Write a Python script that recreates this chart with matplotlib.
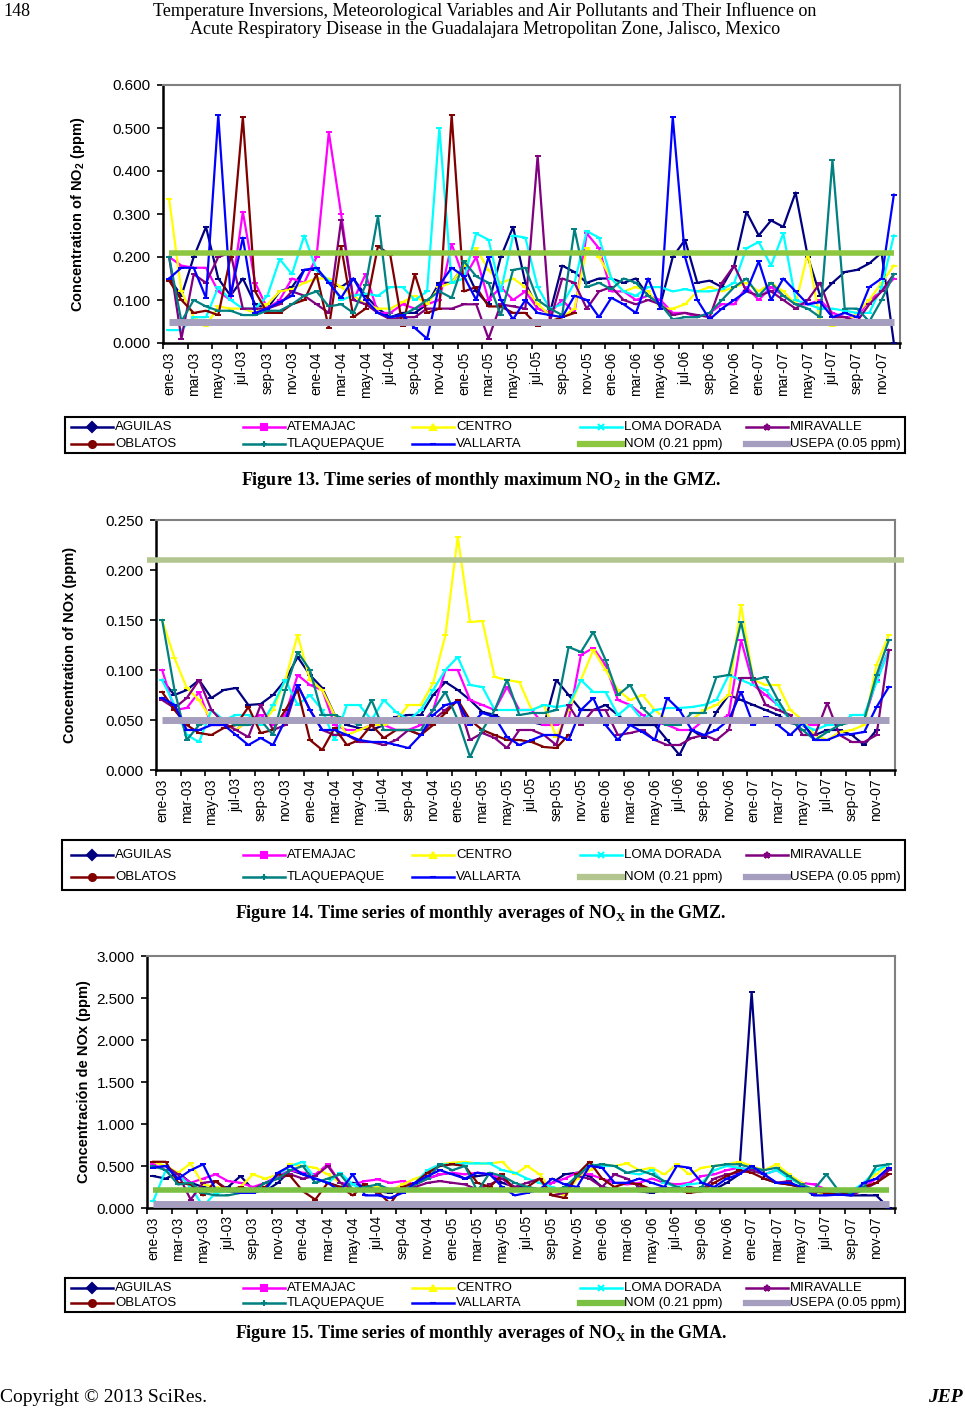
import numpy as np
import matplotlib
matplotlib.use("Agg")
import matplotlib.pyplot as plt
from matplotlib.lines import Line2D
from matplotlib.patches import Rectangle

plt.rcParams['font.family'] = ['Liberation Sans', 'DejaVu Sans']
plt.rcParams['mathtext.fontset'] = 'custom'
plt.rcParams['mathtext.sf'] = 'Liberation Sans:bold'
plt.rcParams['mathtext.bf'] = 'Liberation Serif:bold'
plt.rcParams['mathtext.rm'] = 'Liberation Sans'

# ---- categories ----
month_abbr = ['ene', 'feb', 'mar', 'abr', 'may', 'jun', 'jul', 'ago', 'sep', 'oct', 'nov', 'dic']
years = ['03', '04', '05', '06', '07']
months = [m + '-' + y for y in years for m in month_abbr]

stations = ['AGUILAS', 'ATEMAJAC', 'CENTRO', 'LOMA DORADA', 'MIRAVALLE',
            'OBLATOS', 'TLAQUEPAQUE', 'VALLARTA']
nom_limit = 0.21
usepa_limit = 0.05
nan = np.nan

# ---- Figure 13: monthly maximum NO2 ----
no2_max = {
    'AGUILAS': [0.15, 0.11, 0.20, 0.27, 0.15, 0.11, 0.15, 0.09, 0.08, 0.12, 0.13, 0.17, 0.17, 0.14, 0.13,
                0.15, 0.11, 0.08, 0.06, 0.07, 0.07, 0.09, 0.14, 0.14, 0.18, 0.12, 0.09, 0.20, 0.27, 0.14,
                0.08, 0.07, 0.18, 0.165, 0.14, 0.15, 0.15, 0.14, 0.15, 0.11, 0.09, 0.20, 0.24, 0.14, 0.145,
                0.13, 0.18, 0.305, 0.25, 0.285, 0.27, 0.35, 0.20, 0.11, 0.14, 0.165, 0.17, 0.185, 0.21, 0.0],
    'ATEMAJAC': [0.20, 0.18, 0.175, 0.175, 0.12, 0.10, 0.305, 0.14, 0.08, 0.10, 0.15, 0.14, 0.20, 0.49, 0.30,
                 0.10, 0.16, 0.07, 0.07, 0.09, 0.08, 0.09, 0.10, 0.23, 0.15, 0.20, 0.10, 0.13, 0.10, 0.12,
                 0.08, 0.07, 0.10, 0.07, 0.255, 0.22, 0.12, 0.12, 0.10, 0.11, 0.10, 0.07, 0.07, 0.06, 0.07,
                 0.09, 0.09, 0.13, 0.10, 0.13, 0.11, 0.09, 0.09, 0.10, 0.07, 0.06, 0.06, 0.10, 0.12, 0.15],
    'CENTRO': [0.335, 0.12, 0.06, 0.04, 0.085, 0.08, 0.08, 0.07, 0.09, 0.12, 0.125, 0.14, 0.15, 0.15, 0.13,
               0.11, 0.09, 0.08, 0.08, 0.095, 0.11, 0.09, 0.13, 0.14, 0.18, 0.22, 0.17, 0.14, 0.15, 0.13,
               0.09, 0.065, 0.06, 0.08, 0.22, 0.20, 0.15, 0.12, 0.13, 0.12, 0.08, 0.08, 0.09, 0.12, 0.13,
               0.12, 0.13, 0.14, 0.12, 0.14, 0.12, 0.09, 0.21, 0.05, 0.04, 0.045, 0.07, 0.10, 0.14, 0.18],
    'LOMA DORADA': [0.03, 0.03, 0.06, 0.06, 0.13, 0.10, 0.08, 0.08, 0.11, 0.195, 0.16, 0.25, 0.17, 0.145, 0.10,
                    0.11, 0.115, 0.11, 0.13, 0.13, 0.10, 0.12, 0.50, 0.14, 0.15, 0.255, 0.24, 0.12, 0.25, 0.245,
                    0.13, 0.08, 0.09, 0.14, 0.26, 0.245, 0.15, 0.12, 0.11, 0.13, 0.13, 0.12, 0.125, 0.12, 0.12,
                    0.125, 0.14, 0.22, 0.235, 0.18, 0.255, 0.10, 0.09, 0.08, 0.08, 0.075, 0.07, 0.07, 0.13, 0.25],
    'MIRAVALLE': [0.20, 0.01, 0.16, 0.14, 0.20, 0.21, 0.08, 0.08, 0.08, 0.09, 0.12, 0.11, 0.09, 0.07, 0.285,
                  0.10, 0.09, 0.07, 0.055, 0.06, 0.06, 0.08, 0.08, 0.08, 0.09, 0.09, 0.01, 0.09, 0.085, 0.08,
                  0.435, 0.05, 0.15, 0.14, 0.08, 0.12, 0.13, 0.10, 0.09, 0.10, 0.09, 0.065, 0.07, 0.065, 0.06,
                  0.14, 0.18, 0.12, 0.11, 0.12, 0.10, 0.08, 0.10, 0.14, 0.06, 0.06, 0.05, 0.09, 0.12, 0.16],
    'OBLATOS': [0.145, 0.10, 0.07, 0.075, 0.065, 0.20, 0.525, 0.12, 0.07, 0.07, 0.09, 0.10, 0.16, 0.035, 0.225,
                0.06, 0.08, 0.225, 0.205, 0.04, 0.16, 0.07, 0.08, 0.53, 0.12, 0.13, 0.085, 0.085, 0.07, 0.07,
                0.04, 0.05, 0.06, 0.07, nan, nan, nan, nan, nan, nan, nan, nan, nan, nan, nan,
                nan, nan, nan, nan, nan, nan, nan, nan, nan, nan, nan, nan, nan, nan, nan],
    'TLAQUEPAQUE': [0.20, 0.05, 0.10, 0.085, 0.075, 0.075, 0.065, 0.065, 0.075, 0.075, 0.09, 0.11, 0.12, 0.085, 0.09,
                    0.07, 0.135, 0.295, 0.06, 0.065, 0.08, 0.10, 0.12, 0.105, 0.19, 0.155, 0.14, 0.065, 0.17, 0.175,
                    0.10, 0.08, 0.065, 0.265, 0.13, 0.14, 0.125, 0.15, 0.14, 0.11, 0.09, 0.055, 0.06, 0.06, 0.07,
                    0.10, 0.13, 0.15, 0.11, 0.14, 0.11, 0.09, 0.08, 0.06, 0.425, 0.08, 0.08, 0.05, 0.10, 0.16],
    'VALLARTA': [0.15, 0.175, 0.175, 0.105, 0.53, 0.11, 0.245, 0.07, 0.08, 0.095, 0.11, 0.17, 0.175, 0.14, 0.105,
                 0.15, 0.10, 0.07, 0.06, 0.065, 0.035, 0.01, 0.135, 0.175, 0.155, 0.10, 0.20, 0.10, 0.055, 0.10,
                 0.07, 0.065, 0.06, 0.11, 0.10, 0.06, 0.105, 0.09, 0.07, 0.15, 0.08, 0.525, 0.20, 0.10, 0.055,
                 0.08, 0.10, 0.12, 0.19, 0.10, 0.15, 0.12, 0.09, 0.095, 0.06, 0.07, 0.06, 0.13, 0.15, 0.345],
}

# ---- Figure 14: monthly averages of NOx (GMZ) ----
nox_avg = {
    'AGUILAS': [0.09, 0.075, 0.08, 0.09, 0.072, 0.08, 0.082, 0.065, 0.066, 0.075, 0.09, 0.113, 0.095, 0.082, 0.055,
                0.045, 0.042, 0.04, 0.045, 0.053, 0.055, 0.055, 0.075, 0.088, 0.08, 0.07, 0.058, 0.055, 0.048, 0.05,
                0.048, 0.045, 0.09, 0.075, 0.06, 0.06, 0.065, 0.055, 0.045, 0.045, 0.045, 0.03, 0.015, 0.04, 0.032,
                0.058, 0.075, 0.07, 0.065, 0.06, 0.055, 0.047, 0.045, 0.035, 0.04, 0.04, 0.035, 0.025, 0.04, nan],
    'ATEMAJAC': [0.10, 0.06, 0.062, 0.078, 0.045, 0.045, 0.04, 0.05, 0.055, 0.045, 0.055, 0.095, 0.085, 0.08, 0.045,
                 0.04, 0.04, 0.045, 0.045, 0.04, 0.04, 0.045, 0.06, 0.10, 0.10, 0.07, 0.065, 0.06, 0.083, 0.06,
                 0.06, 0.045, 0.045, 0.05, 0.115, 0.122, 0.105, 0.07, 0.065, 0.055, 0.048, 0.045, 0.04, 0.04, 0.05,
                 0.048, 0.055, 0.13, 0.085, 0.075, 0.065, 0.05, 0.045, 0.045, 0.05, 0.05, 0.05, 0.05, 0.09, 0.12],
    'CENTRO': [0.15, 0.112, 0.082, 0.07, 0.05, 0.045, 0.04, 0.05, 0.045, 0.06, 0.09, 0.135, 0.09, 0.08, 0.055,
               0.035, 0.04, 0.045, 0.045, 0.05, 0.065, 0.065, 0.087, 0.135, 0.233, 0.148, 0.149, 0.093, 0.09, 0.088,
               0.06, 0.065, 0.033, 0.06, 0.09, 0.12, 0.10, 0.08, 0.07, 0.075, 0.06, 0.05, 0.048, 0.05, 0.06,
               0.065, 0.075, 0.165, 0.09, 0.085, 0.085, 0.06, 0.05, 0.035, 0.03, 0.038, 0.04, 0.045, 0.105, 0.135],
    'LOMA DORADA': [0.09, 0.065, 0.035, 0.028, 0.06, 0.05, 0.055, 0.055, 0.045, 0.065, 0.09, 0.065, 0.075, 0.06, 0.03,
                    0.065, 0.065, 0.05, 0.07, 0.058, 0.05, 0.06, 0.08, 0.10, 0.113, 0.085, 0.083, 0.06, 0.06, 0.06,
                    0.06, 0.065, 0.063, 0.065, 0.09, 0.078, 0.078, 0.055, 0.065, 0.05, 0.06, 0.062, 0.062, 0.063, 0.065,
                    0.07, 0.095, 0.09, 0.085, 0.08, 0.065, 0.05, 0.045, 0.04, 0.045, 0.045, 0.055, 0.055, 0.088, 0.12],
    'MIRAVALLE': [0.07, 0.062, 0.072, 0.09, 0.06, 0.047, 0.04, 0.033, 0.065, 0.04, 0.045, 0.085, 0.06, 0.04, 0.035,
                  0.035, 0.028, 0.028, 0.025, 0.03, 0.04, 0.035, 0.05, 0.06, 0.07, 0.03, 0.037, 0.032, 0.022, 0.04,
                  0.04, 0.035, 0.025, 0.065, 0.045, 0.06, 0.06, 0.035, 0.037, 0.04, 0.03, 0.025, 0.025, 0.032, 0.035,
                  0.03, 0.04, 0.092, 0.092, 0.065, 0.06, 0.055, 0.035, 0.035, 0.067, 0.035, 0.028, 0.028, 0.035, 0.12],
    'OBLATOS': [0.078, 0.06, 0.045, 0.037, 0.035, 0.042, 0.045, 0.063, 0.037, 0.04, 0.06, 0.08, 0.03, 0.02, 0.042,
                0.025, 0.03, 0.045, 0.032, 0.04, 0.04, 0.035, 0.045, 0.057, 0.07, 0.05, 0.04, 0.035, 0.03, 0.03,
                0.028, 0.023, 0.022, 0.035, nan, nan, nan, nan, nan, nan, nan, nan, nan, nan, nan,
                nan, nan, nan, nan, nan, nan, nan, nan, nan, nan, nan, nan, nan, nan, nan],
    'TLAQUEPAQUE': [0.15, 0.08, 0.03, 0.045, 0.05, 0.05, 0.045, 0.045, 0.05, 0.035, 0.08, 0.118, 0.10, 0.055, 0.055,
                    0.05, 0.045, 0.07, 0.04, 0.04, 0.04, 0.04, 0.06, 0.078, 0.05, 0.013, 0.04, 0.06, 0.09, 0.055,
                    0.057, 0.057, 0.06, 0.123, 0.118, 0.138, 0.11, 0.075, 0.085, 0.062, 0.05, 0.045, 0.045, 0.057, 0.057,
                    0.093, 0.095, 0.148, 0.09, 0.093, 0.07, 0.05, 0.04, 0.03, 0.038, 0.045, 0.048, 0.05, 0.095, 0.13],
    'VALLARTA': [0.072, 0.065, 0.04, 0.04, 0.045, 0.045, 0.035, 0.025, 0.032, 0.025, 0.05, 0.085, 0.06, 0.04, 0.04,
                 0.035, 0.03, 0.028, 0.028, 0.025, 0.022, 0.035, 0.055, 0.065, 0.068, 0.045, 0.057, 0.053, 0.033, 0.025,
                 0.03, 0.035, 0.035, 0.03, 0.06, 0.072, 0.045, 0.03, 0.045, 0.038, 0.03, 0.072, 0.06, 0.04, 0.035,
                 0.04, 0.05, 0.078, 0.045, 0.053, 0.045, 0.035, 0.047, 0.03, 0.03, 0.035, 0.036, 0.038, 0.063, 0.083],
}

# ---- Figure 15: monthly averages of NOx (GMA) ----
nox_gma = {
    'AGUILAS': [0.38, 0.35, 0.42, 0.30, 0.25, 0.22, 0.25, 0.38, 0.22, 0.20, 0.30, 0.45, 0.40, 0.35, 0.30,
                0.25, 0.30, 0.25, 0.20, 0.18, 0.22, 0.28, 0.35, 0.40, 0.42, 0.35, 0.38, 0.40, 0.30, 0.25,
                0.25, 0.22, 0.30, 0.40, 0.42, 0.38, 0.25, 0.22, 0.22, 0.20, 0.18, 0.22, 0.25, 0.20, 0.20,
                0.22, 0.30, 0.40, 2.57, 0.35, 0.30, 0.28, 0.25, 0.20, 0.18, 0.16, 0.15, 0.15, 0.15, 0.0],
    'ATEMAJAC': [0.52, 0.45, 0.40, 0.30, 0.35, 0.40, 0.32, 0.30, 0.25, 0.30, 0.38, 0.45, 0.42, 0.40, 0.52,
                 0.30, 0.28, 0.32, 0.34, 0.30, 0.32, 0.28, 0.35, 0.40, 0.42, 0.40, 0.42, 0.40, 0.35, 0.22,
                 0.25, 0.20, 0.30, 0.35, 0.42, 0.40, 0.35, 0.30, 0.28, 0.30, 0.35, 0.30, 0.28, 0.30, 0.38,
                 0.40, 0.45, 0.48, 0.45, 0.40, 0.45, 0.38, 0.30, 0.28, 0.22, 0.20, 0.22, 0.25, 0.35, 0.45],
    'CENTRO': [0.55, 0.50, 0.42, 0.53, 0.28, 0.25, 0.22, 0.25, 0.40, 0.35, 0.40, 0.52, 0.50, 0.48, 0.40,
               0.30, 0.20, 0.22, 0.25, 0.20, 0.28, 0.35, 0.40, 0.52, 0.54, 0.55, 0.53, 0.53, 0.55, 0.40,
               0.50, 0.40, 0.20, 0.15, 0.35, 0.45, 0.52, 0.50, 0.53, 0.45, 0.48, 0.40, 0.52, 0.40, 0.48,
               0.50, 0.52, 0.55, 0.50, 0.45, 0.52, 0.40, 0.30, 0.15, 0.18, 0.17, 0.18, 0.30, 0.40, 0.52],
    'LOMA DORADA': [0.08, 0.45, 0.40, 0.25, 0.02, 0.18, 0.20, 0.25, 0.20, 0.22, 0.40, 0.50, 0.55, 0.35, 0.30,
                    0.42, 0.28, 0.20, 0.20, 0.22, 0.20, 0.30, 0.45, 0.52, 0.52, 0.53, 0.53, 0.53, 0.45, 0.42,
                    0.35, 0.30, 0.25, 0.20, 0.40, 0.52, 0.50, 0.50, 0.42, 0.40, 0.45, 0.30, 0.25, 0.28, 0.30,
                    0.45, 0.50, 0.48, 0.45, 0.40, 0.45, 0.35, 0.28, 0.18, 0.20, 0.18, 0.20, 0.30, 0.45, 0.52],
    'MIRAVALLE': [0.48, 0.50, 0.40, 0.10, 0.30, 0.32, 0.22, 0.20, 0.22, 0.30, 0.35, 0.40, 0.35, 0.38, 0.50,
                  0.30, 0.22, 0.25, 0.18, 0.22, 0.20, 0.25, 0.30, 0.32, 0.30, 0.28, 0.22, 0.28, 0.35, 0.25,
                  0.30, 0.35, 0.15, 0.18, 0.38, 0.35, 0.25, 0.40, 0.35, 0.25, 0.22, 0.25, 0.20, 0.25, 0.22,
                  0.35, 0.40, 0.42, 0.45, 0.40, 0.30, 0.32, 0.22, 0.18, 0.22, 0.20, 0.15, 0.22, 0.30, 0.45],
    'OBLATOS': [0.55, 0.55, 0.30, 0.28, 0.15, 0.32, 0.20, 0.25, 0.20, 0.25, 0.40, 0.38, 0.20, 0.10, 0.30,
                0.25, 0.15, 0.28, 0.20, 0.05, 0.25, 0.30, 0.42, 0.50, 0.52, 0.50, 0.30, 0.25, 0.40, 0.20,
                0.25, 0.35, 0.15, 0.12, 0.40, 0.55, 0.35, 0.25, 0.30, 0.28, 0.22, 0.20, 0.22, 0.18, 0.20,
                0.30, 0.38, 0.45, 0.42, 0.35, 0.30, 0.28, 0.25, 0.20, 0.18, 0.16, 0.18, 0.25, 0.30, 0.40],
    'TLAQUEPAQUE': [0.50, 0.45, 0.28, 0.30, 0.18, 0.15, 0.15, 0.18, 0.20, 0.30, 0.35, 0.45, 0.50, 0.30, 0.35,
                    0.40, 0.22, 0.25, 0.28, 0.22, 0.20, 0.28, 0.35, 0.52, 0.45, 0.50, 0.20, 0.42, 0.38, 0.30,
                    0.25, 0.22, 0.20, 0.25, 0.38, 0.50, 0.52, 0.50, 0.42, 0.45, 0.40, 0.32, 0.25, 0.20, 0.25,
                    0.50, 0.52, 0.52, 0.48, 0.45, 0.48, 0.38, 0.28, 0.22, 0.40, 0.20, 0.18, 0.25, 0.50, 0.52],
    'VALLARTA': [0.48, 0.50, 0.35, 0.45, 0.52, 0.22, 0.20, 0.18, 0.18, 0.22, 0.42, 0.50, 0.40, 0.35, 0.30,
                 0.20, 0.40, 0.15, 0.15, 0.12, 0.18, 0.30, 0.38, 0.45, 0.40, 0.35, 0.42, 0.40, 0.25, 0.15,
                 0.18, 0.22, 0.35, 0.28, 0.25, 0.50, 0.48, 0.30, 0.30, 0.35, 0.30, 0.25, 0.50, 0.48, 0.30,
                 0.25, 0.35, 0.40, 0.50, 0.40, 0.30, 0.30, 0.25, 0.15, 0.15, 0.16, 0.15, 0.30, 0.35, 0.48],
}

COLORS = {'AGUILAS': '#000080', 'ATEMAJAC': '#FF00FF', 'CENTRO': '#FFFF00', 'LOMA DORADA': '#00FFFF',
          'MIRAVALLE': '#800080', 'OBLATOS': '#800000', 'TLAQUEPAQUE': '#008080', 'VALLARTA': '#0000FF'}
MARKERS = {'AGUILAS': 'D', 'ATEMAJAC': 's', 'CENTRO': '^', 'LOMA DORADA': 'x',
           'MIRAVALLE': '*', 'OBLATOS': 'o', 'TLAQUEPAQUE': '+', 'VALLARTA': '_'}


def px(x, y):
    # pixel (from top-left) -> figure fraction
    return x / 965, 1 - y / 1414


def draw_legend(box, nom_color, usepa_color):
    lx0, ly0, lx1, ly1 = box
    b = px(lx0, ly1)
    fig.add_artist(Rectangle(b, (lx1 - lx0) / 965, (ly1 - ly0) / 1414, transform=fig.transFigure,
                             fill=False, edgecolor='black', lw=1.5))
    labels = stations + ['NOM (0.21 ppm)', 'USEPA (0.05 ppm)']
    col_x = [71, 243, 412, 580, 746]
    h = ly1 - ly0
    row_y = [ly0 + h * 0.29, ly0 + h * 0.74]
    for k, lab in enumerate(labels):
        r, c = divmod(k, 5)
        x0, y0 = col_x[c], row_y[r]
        xa, ya = px(x0, y0)
        xb, _ = px(x0 + 42, y0)
        if k < 8:
            name = stations[k]
            fig.add_artist(Line2D([xa, xb], [ya, ya], color=COLORS[name], lw=1.8, transform=fig.transFigure))
            fig.add_artist(Line2D([(xa + xb) / 2], [ya], color=COLORS[name], marker=MARKERS[name], ms=5,
                                  mew=1.5, transform=fig.transFigure))
        else:
            col = nom_color if k == 8 else usepa_color
            fig.add_artist(Line2D([xa, xb], [ya, ya], color=col, lw=4.5, transform=fig.transFigure))
        fig.text(*px(x0 + 44, y0), lab, fontsize=9.5, va='center', ha='left')


def draw_chart(rect, data, ymax, ystep, ylabel, nom_color, usepa_color, ylabel_x, legend_box, nom_ext=False):
    left, top, right, bottom = rect
    ax = fig.add_axes([left / 965, 1 - bottom / 1414, (right - left) / 965, (bottom - top) / 1414])
    x = np.arange(len(months))
    for name in stations:
        ax.plot(x, data[name], color=COLORS[name], lw=1.6, marker='_', ms=5, mew=1.4, zorder=3)
    nx = np.array([-1.2, 60.2]) if nom_ext else np.array([0, 59])
    ax.plot(nx, [nom_limit, nom_limit], color=nom_color, lw=4, zorder=4, clip_on=False, solid_capstyle='butt')
    ax.plot([0, 59], [usepa_limit, usepa_limit], color=usepa_color, lw=5, zorder=4, solid_capstyle='butt')

    ax.set_xlim(-0.5, 59.5)
    ax.set_ylim(0, ymax)
    yt = np.arange(0, ymax + ystep / 2, ystep)
    ax.set_yticks(yt)
    ax.set_yticklabels(['%.3f' % v for v in yt], fontsize=11)
    ax.set_xticks(x[::2])
    ax.set_xticklabels(months[::2], rotation=90, fontsize=10)
    ax.tick_params(axis='x', length=0, pad=6)
    ax.set_xticks(np.arange(-0.5, 60, 2), minor=True)
    ax.tick_params(axis='x', which='minor', length=4, width=1.2, direction='out')
    ax.tick_params(axis='y', length=4, width=1.2, direction='out', pad=5)
    for s in ['top', 'right']:
        ax.spines[s].set_color('#808080')
        ax.spines[s].set_linewidth(1.5)
    for s in ['left', 'bottom']:
        ax.spines[s].set_color('black')
        ax.spines[s].set_linewidth(1.8)
    fig.text(ylabel_x / 965, 1 - (top + bottom) / 2 / 1414, ylabel, rotation=90, fontsize=10.5,
             fontweight='bold', ha='center', va='center')
    draw_legend(legend_box, nom_color, usepa_color)
    return ax


fig = plt.figure(figsize=(9.65, 14.14), dpi=100)

draw_chart((163, 85, 900, 343), no2_max, 0.6, 0.1, r'Concentration of NO$_\mathsf{2}$ (ppm)',
           '#8DC63F', '#A59EBE', 78, (65, 417, 905, 453))
draw_chart((156, 520, 895, 770), nox_avg, 0.25, 0.05, 'Concentration of NOx (ppm)',
           '#B3C68F', '#A59EBE', 70, (62, 840, 905, 890), nom_ext=True)
draw_chart((147, 956, 895, 1208), nox_gma, 3.0, 0.5, 'Concentración de NOx (ppm)',
           '#7AC143', '#A59EBE', 84, (65, 1278, 905, 1312))

serif = 'Liberation Serif'
fig.text(*px(3, 11), '148', fontsize=13, family=serif, va='center', ha='left')
fig.text(*px(485, 11), 'Temperature Inversions, Meteorological Variables and Air Pollutants and Their Influence on',
         fontsize=13, family=serif, va='center', ha='center')
fig.text(*px(485, 29), 'Acute Respiratory Disease in the Guadalajara Metropolitan Zone, Jalisco, Mexico',
         fontsize=13, family=serif, va='center', ha='center')
fig.text(*px(481, 481), r'Figure 13. Time series of monthly maximum NO$_\mathbf{2}$ in the GMZ.',
         fontsize=13, family=serif, fontweight='bold', va='center', ha='center')
fig.text(*px(481, 913), r'Figure 14. Time series of monthly averages of NO$_\mathbf{X}$ in the GMZ.',
         fontsize=13, family=serif, fontweight='bold', va='center', ha='center')
fig.text(*px(481, 1333), r'Figure 15. Time series of monthly averages of NO$_\mathbf{X}$ in the GMA.',
         fontsize=13, family=serif, fontweight='bold', va='center', ha='center')
fig.text(*px(0, 1398), 'Copyright © 2013 SciRes.', fontsize=14, family=serif, va='center', ha='left')
fig.text(*px(963, 1398), 'JEP', fontsize=14, family=serif, fontweight='bold', style='italic',
         va='center', ha='right')

fig.savefig('out.png', dpi=100)
